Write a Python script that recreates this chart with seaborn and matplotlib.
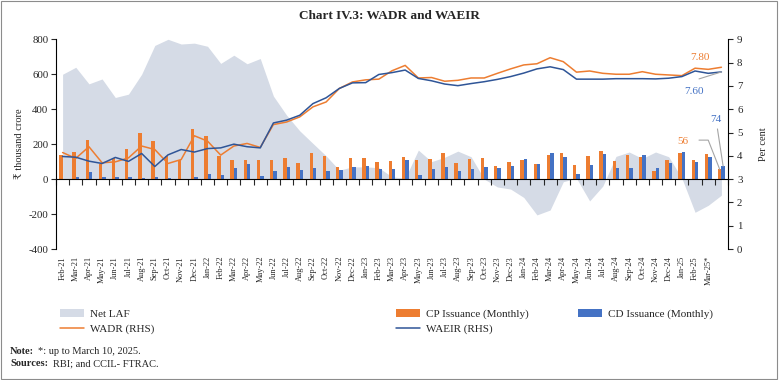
import numpy as np
import pandas as pd
import matplotlib
matplotlib.use("Agg")
import matplotlib.pyplot as plt
import seaborn as sns
from matplotlib.patches import Patch, Rectangle
from matplotlib.lines import Line2D

# month labels (the last bar, Mar-25 up to 10th, sits past the last label as in the source)
months = ["Feb-21", "Mar-21", "Apr-21", "May-21", "Jun-21", "Jul-21", "Aug-21", "Sep-21",
          "Oct-21", "Nov-21", "Dec-21", "Jan-22", "Feb-22", "Mar-22", "Apr-22", "May-22",
          "Jun-22", "Jul-22", "Aug-22", "Sep-22", "Oct-22", "Nov-22", "Dec-22", "Jan-23",
          "Feb-23", "Mar-23", "Apr-23", "May-23", "Jun-23", "Jul-23", "Aug-23", "Sep-23",
          "Oct-23", "Nov-23", "Dec-23", "Jan-24", "Feb-24", "Mar-24", "Apr-24", "May-24",
          "Jun-24", "Jul-24", "Aug-24", "Sep-24", "Oct-24", "Nov-24", "Dec-24", "Jan-25",
          "Feb-25", "Mar-25*", ""]

# Rs thousand crore
net_laf = [600, 640, 545, 573, 467, 486, 600, 765, 800, 773, 778, 760, 662, 709, 660, 690,
           475, 366, 276, 204, 133, 51, 70, 70, 65, 13, 5, 166, 100, 125, 160, 128,
           0, -45, -57, -105, -205, -177, -15, 5, -125, -40, 130, 155, 118, 155, 128, 5,
           -190, -150, -92]
cp_issuance = [137, 154, 223, 88, 118, 170, 265, 219, 130, 112, 286, 246, 133, 107, 112, 107,
               110, 120, 91, 150, 135, 70, 120, 118, 95, 101, 126, 110, 116, 149, 91, 116,
               120, 74, 99, 109, 86, 137, 149, 80, 131, 162, 103, 139, 124, 46, 112, 149,
               107, 141, 56]
cd_issuance = [2, 10, 40, 11, 11, 11, 6, 10, 8, 2, 11, 32, 23, 63, 86, 17,
               44, 70, 50, 61, 46, 51, 70, 76, 59, 55, 110, 23, 59, 70, 44, 57,
               72, 63, 74, 114, 86, 147, 124, 29, 80, 145, 65, 65, 139, 61, 90, 154,
               97, 126, 74]

# per cent (RHS)
wadr = [4.14, 3.89, 4.39, 3.70, 3.74, 3.91, 4.42, 4.27, 3.67, 3.84, 4.86, 4.63, 4.03, 4.42,
        4.53, 4.36, 5.34, 5.45, 5.67, 6.10, 6.31, 6.89, 7.17, 7.26, 7.29, 7.65, 7.88, 7.34,
        7.36, 7.20, 7.24, 7.34, 7.34, 7.54, 7.73, 7.90, 7.95, 8.21, 8.04, 7.59, 7.64, 7.54,
        7.50, 7.50, 7.61, 7.50, 7.47, 7.44, 7.76, 7.71, 7.80]
waeir = [3.97, 3.94, 3.77, 3.67, 3.93, 3.76, 4.10, 3.54, 4.04, 4.27, 4.16, 4.31, 4.34, 4.50,
         4.39, 4.34, 5.41, 5.53, 5.74, 6.24, 6.49, 6.89, 7.13, 7.14, 7.49, 7.57, 7.68, 7.32,
         7.22, 7.08, 7.01, 7.10, 7.18, 7.28, 7.40, 7.55, 7.73, 7.82, 7.70, 7.29, 7.29, 7.29,
         7.31, 7.31, 7.31, 7.30, 7.33, 7.40, 7.64, 7.54, 7.60]

ORANGE = "#ED7D31"
BLUE = "#4472C4"
NAVY = "#2F5597"
LAF_COLOR = "#D5DBE6"
GREY = "#A5A5A5"

sns.set_theme(style="ticks")
plt.rcParams["font.family"] = ["Liberation Serif", "DejaVu Serif", "DejaVu Sans"]
plt.rcParams["axes.edgecolor"] = "black"
plt.rcParams["axes.linewidth"] = 0.8
plt.rcParams["axes.unicode_minus"] = False

n = len(cp_issuance)
idx = np.arange(n)

bars_df = pd.DataFrame({
    "idx": np.concatenate([idx, idx]),
    "value": cp_issuance + cd_issuance,
    "series": ["CP"] * n + ["CD"] * n,
})
lines_df = pd.DataFrame({
    "idx": np.concatenate([idx, idx]),
    "rate": wadr + waeir,
    "series": ["WADR"] * n + ["WAEIR"] * n,
})

fig = plt.figure(figsize=(7.79, 3.80), dpi=100)
ax = fig.add_axes([56 / 779, 1 - 249 / 380, (728 - 56) / 779, (249 - 39.3) / 380])

# Net LAF area behind everything
ax.fill_between(idx, net_laf, 0, color=LAF_COLOR, lw=0, zorder=0)

sns.barplot(data=bars_df, x="idx", y="value", hue="series", hue_order=["CP", "CD"],
            palette=[ORANGE, BLUE], width=0.52, saturation=1, errorbar=None,
            legend=False, ax=ax, zorder=2, linewidth=0, edgecolor="none")

ax.set_xlim(-0.5, n - 0.5)
ax.set_ylim(-400, 800)
ax.set_yticks(range(-400, 801, 200))
ax.spines["top"].set_visible(False)
ax.spines["right"].set_visible(False)
ax.spines["bottom"].set_position(("data", 0))
ax.set_xticks(np.arange(-0.5, n, 1))
ax.set_xticklabels([])
ax.tick_params(axis="x", length=4, width=0.8, direction="out")
ax.tick_params(axis="y", labelsize=7.8, length=3.5, width=0.8, pad=2)
ax.set_xlabel("")
ax.set_ylabel("₹ thousand crore", fontsize=7.5, labelpad=3)

# month labels along the bottom
sec = ax.secondary_xaxis("bottom")
sec.set_xticks(idx, labels=months)
sec.tick_params(length=0, pad=5, labelsize=6, labelrotation=90)
sec.spines["bottom"].set_visible(False)

# rates on the right axis
ax2 = ax.twinx()
sns.lineplot(data=lines_df, x="idx", y="rate", hue="series", hue_order=["WADR", "WAEIR"],
             palette=[ORANGE, NAVY], lw=1.1, legend=False, ax=ax2)
ax2.set_xlim(-0.5, n - 0.5)
ax2.set_ylim(0, 9)
ax2.set_yticks(range(0, 10))
for s in ["top", "left", "bottom"]:
    ax2.spines[s].set_visible(False)
ax2.tick_params(axis="y", labelsize=7.8, length=3.5, width=0.8, pad=3)
ax2.set_xlabel("")
ax2.set_ylabel("Per cent", fontsize=7.5, labelpad=12)

# end-point labels
last = n - 1
ax2.text(48.35, 8.2, f"{wadr[-1]:.2f}", color=ORANGE, ha="center", va="center", fontsize=8)
ax2.text(47.9, 6.74, f"{waeir[-1]:.2f}", color=BLUE, ha="center", va="center", fontsize=8)
ax2.plot([48.3, last], [7.3, waeir[-1]], color=GREY, lw=0.8)
ax.text(49.6, 339, f"{cd_issuance[-1]}", color=BLUE, ha="center", va="center", fontsize=8)
ax.plot([49.7, last + 0.13], [287, cd_issuance[-1]], color=GREY, lw=0.8, zorder=3)
ax.text(47.1, 215, f"{cp_issuance[-1]}", color=ORANGE, ha="center", va="center", fontsize=8)
ax.plot([48.3, 49.0, last - 0.13], [223, 223, cp_issuance[-1]], color=GREY, lw=0.8, zorder=3)

# legend in three columns below the plot
laf_h = Patch(facecolor=LAF_COLOR, edgecolor="none", label="Net LAF")
cp_h = Patch(facecolor=ORANGE, edgecolor="none", label="CP Issuance (Monthly)")
cd_h = Patch(facecolor=BLUE, edgecolor="none", label="CD Issuance (Monthly)")
wadr_h = Line2D([], [], color=ORANGE, lw=1.1, label="WADR (RHS)")
waeir_h = Line2D([], [], color=NAVY, lw=1.1, label="WAEIR (RHS)")
leg_kw = dict(loc="upper left", frameon=False, fontsize=8, handlelength=2.2,
              handletextpad=0.5, labelspacing=0.45, borderaxespad=0, borderpad=0)
fig.legend(handles=[laf_h, wadr_h], bbox_to_anchor=(60 / 779, 1 - 309 / 380), **leg_kw)
fig.legend(handles=[cp_h, waeir_h], bbox_to_anchor=(396 / 779, 1 - 309 / 380), **leg_kw)
fig.legend(handles=[cd_h], bbox_to_anchor=(578 / 779, 1 - 309 / 380), **leg_kw)

# title, notes, frame
fig.text(0.5, 1 - 16 / 380, "Chart IV.3: WADR and WAEIR", ha="center", va="center",
         fontsize=9.5, fontweight="bold")
fig.text(10 / 779, 1 - 351 / 380, "Note:", fontsize=7.5, fontweight="bold", va="center")
fig.text(38 / 779, 1 - 351 / 380, "*: up to March 10, 2025.", fontsize=7.5, va="center")
fig.text(10 / 779, 1 - 364 / 380, "Sources:", fontsize=7.5, fontweight="bold", va="center")
fig.text(53 / 779, 1 - 364 / 380, "RBI; and CCIL- FTRAC.", fontsize=7.5, va="center")
fig.add_artist(Rectangle((0.001, 0.002), 0.997, 0.996, transform=fig.transFigure,
                         fill=False, edgecolor="#8C8C8C", lw=0.8))

fig.savefig("out.png", dpi=100)
